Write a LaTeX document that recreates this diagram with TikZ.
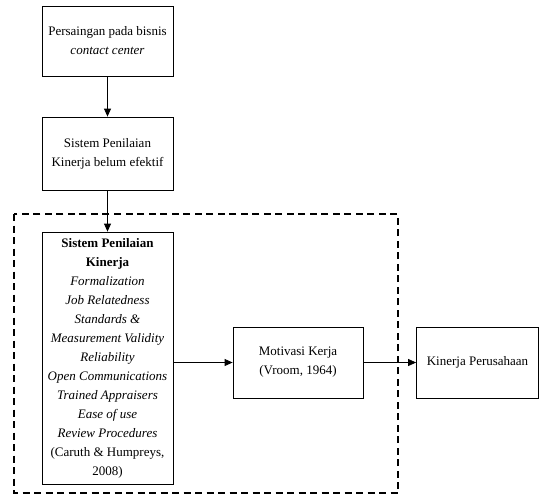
\documentclass[tikz,border=0pt]{standalone}
\usepackage{fontspec}
\setmainfont{Liberation Serif}
\usepackage{tikz}
\usetikzlibrary{arrows.meta}

\tikzset{
  box/.style={draw,line width=0.8pt,align=center,inner sep=2pt,
    font=\fontsize{13}{19}\selectfont},
  flow/.style={->,line width=0.8pt},
}

\begin{document}
\begin{tikzpicture}[x=1pt,y=-1pt,>={Triangle[length=8pt,width=7pt]}]
			\useasboundingbox (0,0) rectangle (539,504);
			% Kerangka pemikiran
			\node[box,minimum width=131pt,minimum height=70pt] (Persaingan) at (107.5,41) {Persaingan pada bisnis\\\textit{contact center}};
			\node[box,minimum width=131pt,minimum height=73pt] (BelumEfektif) at (107.5,153.5) {Sistem Penilaian\\Kinerja belum efektif};
			\node[box,minimum width=131pt,minimum height=252pt] (Penilaian) at (107.5,358) {\textbf{Sistem Penilaian}\\\textbf{Kinerja}\\\textit{Formalization}\\\textit{Job Relatedness}\\\textit{Standards \&}\\\textit{Measurement Validity}\\\textit{Reliability}\\\textit{Open Communications}\\\textit{Trained Appraisers}\\\textit{Ease of use}\\\textit{Review Procedures}\\(Caruth \& Humpreys,\\2008)};
			\node[box,minimum width=130pt,minimum height=71pt] (Motivasi) at (298,362.5) {Motivasi Kerja\\(Vroom, 1964)};
			\node[box,minimum width=122pt,minimum height=71pt] (KinerjaPerusahaan) at (477.5,362.5) {Kinerja Perusahaan};
			\coordinate (BatasA) at (14,214);
			\coordinate (BatasB) at (398,493);
			
			\draw[line width=1.5pt,dash pattern=on 7pt off 4.5pt] (BatasA) rectangle (BatasB);
			\draw[flow] (Persaingan) to (BelumEfektif);
			\draw[flow] (BelumEfektif) to (Penilaian);
			\draw[flow] (Penilaian.east |- Motivasi.west) to (Motivasi.west);
			\draw[flow] (Motivasi) to (KinerjaPerusahaan);
			
			\end{tikzpicture}
\end{document}
